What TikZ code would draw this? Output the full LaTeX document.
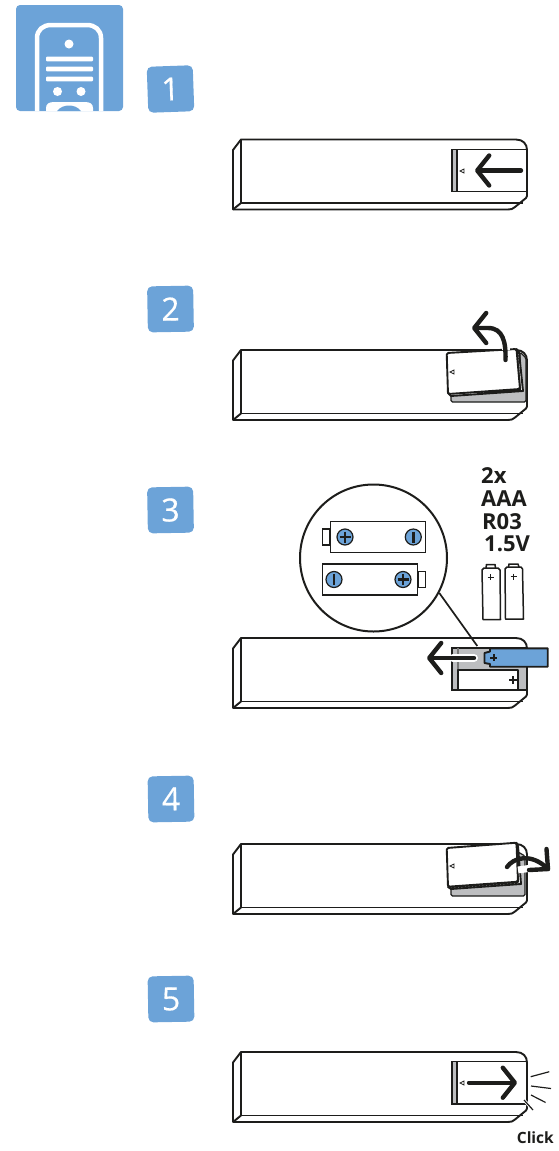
\documentclass[tikz,border=0pt]{standalone}
\usepackage{fontspec}
\setmainfont{Open Sans}
\newfontfamily\digitfont[FakeBold=0.5]{Open Sans}
\usetikzlibrary{arrows.meta}
\definecolor{tabblue}{HTML}{6CA3D8}
\definecolor{doorgrey}{HTML}{BDBEC0}
\definecolor{inkblack}{HTML}{1D1D1B}
\tikzset{
	outline/.style={draw=inkblack, line width=1.9pt, line join=round},
	thinline/.style={draw=inkblack, line width=1.2pt},
	badge/.style={fill=tabblue, rounded corners=5pt, minimum size=46pt, inner sep=0pt, text=white, font=\fontsize{32}{34}\selectfont\digitfont},
	bigarrow/.style={draw=inkblack, line width=4.4pt, line cap=round, -{Straight Barb[length=12pt,width=30pt,round]}},
	specs/.style={anchor=base west, inner sep=0pt, text=inkblack, font=\fontsize{22}{24}\selectfont\bfseries},
	pole/.style={circle, draw=inkblack, line width=1.2pt, fill=tabblue, minimum size=16pt, inner sep=0pt},
	polemark/.style={draw=inkblack, line width=2.6pt},
	arrowhalo/.style={draw=white, line width=8pt}
}
\newcommand{\doormark}[2]{\draw[inkblack, line width=.8pt] (#1+2,#2-2) -- (#1-2,#2) -- (#1+2,#2+2) -- cycle;}
\begin{document}
\begin{tikzpicture}[x=1pt, y=-1pt]
	\useasboundingbox (0,0) rectangle (558,1151);
	\fill[tabblue, rounded corners=4pt] (16,5) rectangle (123,111);
	\draw[white, line width=4.5pt] (37,111) -- (37,38) .. controls (37,30) and (43,25) .. (51,25) -- (87,25) .. controls (95,25) and (101,30) .. (101,38) -- (101,111);
	\fill[white] (69,44) circle[radius=4.5];
	\foreach \barY in {59,69,79}
		\fill[white, rounded corners=1pt] (46,\barY-2.3) rectangle (93,\barY+2.3);
	\fill[white] (57.5,91.5) circle[radius=4.5];
	\fill[white] (81,91.5) circle[radius=4.5];
	\fill[white] (46,111) -- (46,108) .. controls (46,104) and (49,102) .. (54,102) -- (85,102) .. controls (90,102) and (93,104) .. (93,108) -- (93,111) -- cycle;
	\fill[tabblue] (57,111) .. controls (60,107) and (65,105.5) .. (69,105.5) .. controls (73,105.5) and (78,107) .. (81,111) -- cycle;

	\node[badge, rotate=2] (tabOne) at (170.5,89) {1};
	\node[badge, rotate=1] (tabTwo) at (170.5,309) {2};
	\node[badge, rotate=1] (tabThree) at (170.5,510) {3};
	\node[badge, rotate=1] (tabFour) at (171,799) {4};
	\node[badge, rotate=1] (tabFive) at (171,999) {5};

	\foreach \shiftY in {0,210.5,498.5,704.5,912.5} {
		\begin{scope}[shift={(0,\shiftY)}]
			\draw[outline] (233,150) -- (241,139.5) -- (516,139.5) .. controls (523,139.5) and (527,144) .. (527,150) -- (527,196) -- (526,198) -- (515,207) .. controls (513,209) and (511,209.5) .. (508,209.5) -- (233,209.5) -- cycle;
			\draw[outline] (241,139.5) -- (241,203) -- (233,209.5);
			\draw[outline] (241,203) -- (523,203);
		\end{scope}
	}

	\begin{scope}
		\fill[doorgrey] (452,149.5) rectangle (457,191.5);
		\draw[thinline] (527,149.5) -- (452,149.5) -- (452,191.5) -- (527,191.5);
		\draw[thinline] (457,149.5) -- (457,191.5);
		\doormark{462}{171}
		\coordinate (pushTail) at (521,170.5);
		\coordinate (pushTip) at (475,170.5);
		\draw[bigarrow] (pushTail) -- (pushTip);
	\end{scope}

	\begin{scope}
		\fill[white] (445,352) rectangle (520,396);
		\fill[doorgrey, draw=inkblack, line width=1.2pt, rounded corners=1.5pt] (451,393) -- (451,402) -- (526,402) -- (526,358) -- (520,352) -- (520,390) -- cycle;
		\draw[outline, fill=white] (448,393) -- (451,396) -- (523,391) -- (519,352) -- (516.5,349) -- (520,390) -- cycle;
		\draw[outline, fill=white, rounded corners=1.5pt] (446.7,353) -- (516.5,349) -- (520,389) -- (448,394) -- cycle;
		\doormark{452}{372}
		\coordinate (liftTail) at (505.5,360);
		\coordinate (liftTip) at (472,328);
		\draw[arrowhalo] (505.5,350) -- (505.5,345);
		\draw[bigarrow] (liftTail) .. controls (506,342) and (503,328) .. (488,328) -- (liftTip);
	\end{scope}

	\node[circle, draw=inkblack, line width=2pt, fill=white, minimum size=147pt, inner sep=0pt] (lens) at (373.5,558) {};
	\node[thinline, draw, fill=white, minimum width=7pt, minimum height=16pt, inner sep=0pt, anchor=east] (nubTop) at (330,537) {};
	\node[thinline, draw, fill=white, minimum width=95pt, minimum height=31pt, inner sep=0pt, anchor=west] (cellTop) at (330,537) {};
	\node[thinline, draw, fill=white, minimum width=7pt, minimum height=16pt, inner sep=0pt, anchor=west] (nubBot) at (417.7,579.5) {};
	\node[thinline, draw, fill=white, minimum width=95pt, minimum height=31pt, inner sep=0pt, anchor=east] (cellBot) at (417.7,579.5) {};
	\node[pole] (plusTop) at (345,537) {};
	\draw[polemark] (plusTop.center) +(-5.5,0) -- +(5.5,0) +(0,-5.5) -- +(0,5.5);
	\node[pole] (minusTop) at (413.3,537) {};
	\draw[polemark] (minusTop.center) +(0,-5.5) -- +(0,5.5);
	\node[pole] (minusBot) at (334,579.5) {};
	\draw[polemark] (minusBot.center) +(0,-5.5) -- +(0,5.5);
	\node[pole] (plusBot) at (403,579.5) {};
	\draw[polemark] (plusBot.center) +(-5.5,0) -- +(5.5,0) +(0,-5.5) -- +(0,5.5);

	\node[specs] (specCount) at (481,483) {2x};
	\node[specs] (specSize) at (481,506) {AAA};
	\node[specs] (specCode) at (482,529) {R03};
	\node[specs] (specVolt) at (484,551) {1.5V};

	\begin{scope}
		\draw[outline, line width=1.5pt] (486,568) -- (486.5,564.5) -- (495,564.5) -- (495.5,568);
		\draw[outline, line width=1.5pt] (482,570) -- (484,568) -- (498,568) -- (500,570) -- (500.5,619.5) -- (483,619.5) -- cycle;
		\draw[outline, line width=1.5pt] (508.5,567) -- (509,564) -- (518,564) -- (519,567);
		\draw[outline, line width=1.5pt] (505,569) -- (507,567) -- (521,567) -- (522.5,569) -- (523.5,619) -- (505.5,619) -- cycle;
		\draw[inkblack, line width=.9pt] (487.5,577) -- (493.5,577) (490.5,574) -- (490.5,580);
		\draw[inkblack, line width=.9pt] (510.5,576.5) -- (516.5,576.5) (513.5,573.5) -- (513.5,579.5);
	\end{scope}

	\begin{scope}
		\fill[doorgrey] (452,648) rectangle (526,690);
		\draw[thinline] (527,648) -- (452,648) -- (452,690) -- (527,690);
		\draw[thinline, draw=inkblack!60] (458,648) -- (458,670);
		\draw[outline, fill=white] (458,670) rectangle (518,690);
		\draw[inkblack, line width=2pt] (509,680) -- (517,680) (513,676) -- (513,684);
		\coordinate (slotTip) at (477.3,646);
		\draw[line width=1.7pt, draw=inkblack] (lens.-28) -- (slotTip);
		\draw[outline, fill=tabblue] (547.7,648.3) -- (490,648.3) -- (490,651.5) -- (484.5,653) -- (484.5,663) -- (490,664) -- (490,666.7) -- (547.7,666.7) -- cycle;
		\draw[inkblack, line width=2pt] (490,657.7) -- (497,657.7) (493.5,654.2) -- (493.5,661.2);
		\coordinate (cellTail) at (474,658);
		\coordinate (cellTip) at (427,658);
		\draw[arrowhalo, line cap=round] (453,658) -- (cellTail);
		\draw[bigarrow] (cellTail) -- (cellTip);
	\end{scope}

	\begin{scope}
		\fill[white] (445,846) rectangle (520,892);
		\fill[doorgrey, draw=inkblack, line width=1.2pt, rounded corners=1.5pt] (451,886) -- (451,896) -- (525,896) -- (525,856) -- (518,852) -- (520,884) -- cycle;
		\draw[outline, fill=white] (448,887) -- (451,889) -- (521,884) -- (518,846) -- (516.5,842.7) -- (518,882) -- cycle;
		\draw[outline, fill=white, rounded corners=1.5pt] (446.7,848) -- (516.5,842.7) -- (518,881.7) -- (448,886.7) -- cycle;
		\doormark{452}{866}
		\coordinate (shutTail) at (507,867);
		\coordinate (shutTip) at (548,869);
		\draw[white, line width=7pt] (518,870) -- (532,868) -- (534,860);
		\draw[draw=inkblack, line width=4.4pt, line cap=round] (shutTail) .. controls (513,858) and (531,852) .. (shutTip);
		\draw[draw=inkblack, line width=4.4pt, line cap=round, line join=round] (546.5,849) -- (548,869) -- (529,870);
	\end{scope}

	\begin{scope}
		\fill[doorgrey] (452,1061.7) rectangle (457,1104);
		\draw[thinline] (527,1061.7) -- (452,1061.7) -- (452,1104) -- (527,1104);
		\draw[thinline] (457,1061.7) -- (457,1104);
		\doormark{462}{1083}
		\coordinate (closeTail) at (469,1082.7);
		\coordinate (closeTip) at (517,1082.7);
		\draw[bigarrow] (closeTail) -- (closeTip);
		\draw[thinline] (530.7,1076.7) -- (549.3,1071.7);
		\draw[thinline] (531,1086) -- (551,1088.5);
		\draw[thinline] (531,1095) -- (545.6,1102.5);
		\draw[draw=white, line width=3pt] (524,1100) -- (533,1110);
		\draw[thinline] (524,1100) -- (533,1110);
	\end{scope}
	\node[anchor=base east, inner sep=0pt, text=inkblack, font=\fontsize{15.5}{18}\selectfont\bfseries] (clickText) at (554,1143) {Click};
\end{tikzpicture}
\end{document}
